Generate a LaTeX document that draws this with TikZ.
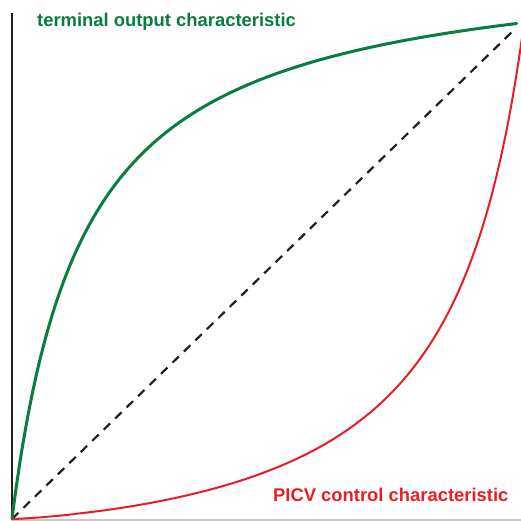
\documentclass[tikz,border=0pt]{standalone}
\usepackage{fontspec}
\setmainfont{Liberation Sans}
\definecolor{outgreen}{RGB}{8,126,62}
\definecolor{picvred}{RGB}{237,28,36}
\definecolor{inkblack}{RGB}{35,31,32}
\definecolor{axisgray}{RGB}{200,200,200}
\begin{document}
\begin{tikzpicture}[x=1pt,y=-1pt,
  curvelabel/.style={anchor=base west,inner sep=0pt,font=\fontsize{18.4}{20}\selectfont\bfseries},
  yaxis/.style={draw=inkblack,line width=2pt},
  xaxis/.style={draw=axisgray,line width=1.2pt},
  diag/.style={draw=inkblack,line width=2.2pt,dash pattern=on 9pt off 7pt},
  greencurve/.style={draw=outgreen,line width=3pt,line cap=round,line join=round},
  redcurve/.style={draw=picvred,line width=2pt,line cap=round,line join=round}]
\useasboundingbox (0,0) rectangle (521,521);
\fill[white] (0,0) rectangle (521,521);
% axes
\coordinate (origin) at (12,519);
\coordinate (ytop) at (12,13);
\coordinate (xend) at (521,520);
\coordinate (diagend) at (516,28);
\draw[xaxis] (12,520) -- (xend);
\draw[yaxis] (ytop) -- (origin);
% linear reference line
\draw[diag] (origin) -- (diagend);
% terminal output characteristic: hyperbolic opening curve
\draw[greencurve] (origin) -- plot[domain=0.001:1,samples=300,variable=\t]
  ({12+509*(0.14*\t/(1.14-\t))},{519-496*\t});
% PICV control characteristic: equal-percentage style curve, running off the right edge
\begin{scope}
\clip (0,0) rectangle (521,521);
\draw[redcurve] (origin) -- plot[domain=0.002:1,samples=400,variable=\t]
  ({12+512*\t},{519-496*(0.155*exp(1.29*ln(\t))/(1.155-\t))});
\end{scope}
% labels
\node[curvelabel,text=outgreen] (lblout) at (37,26.5) {terminal output characteristic};
\node[curvelabel,text=picvred] (lblpicv) at (273,501.7) {PICV control characteristic};
\end{tikzpicture}
\end{document}
